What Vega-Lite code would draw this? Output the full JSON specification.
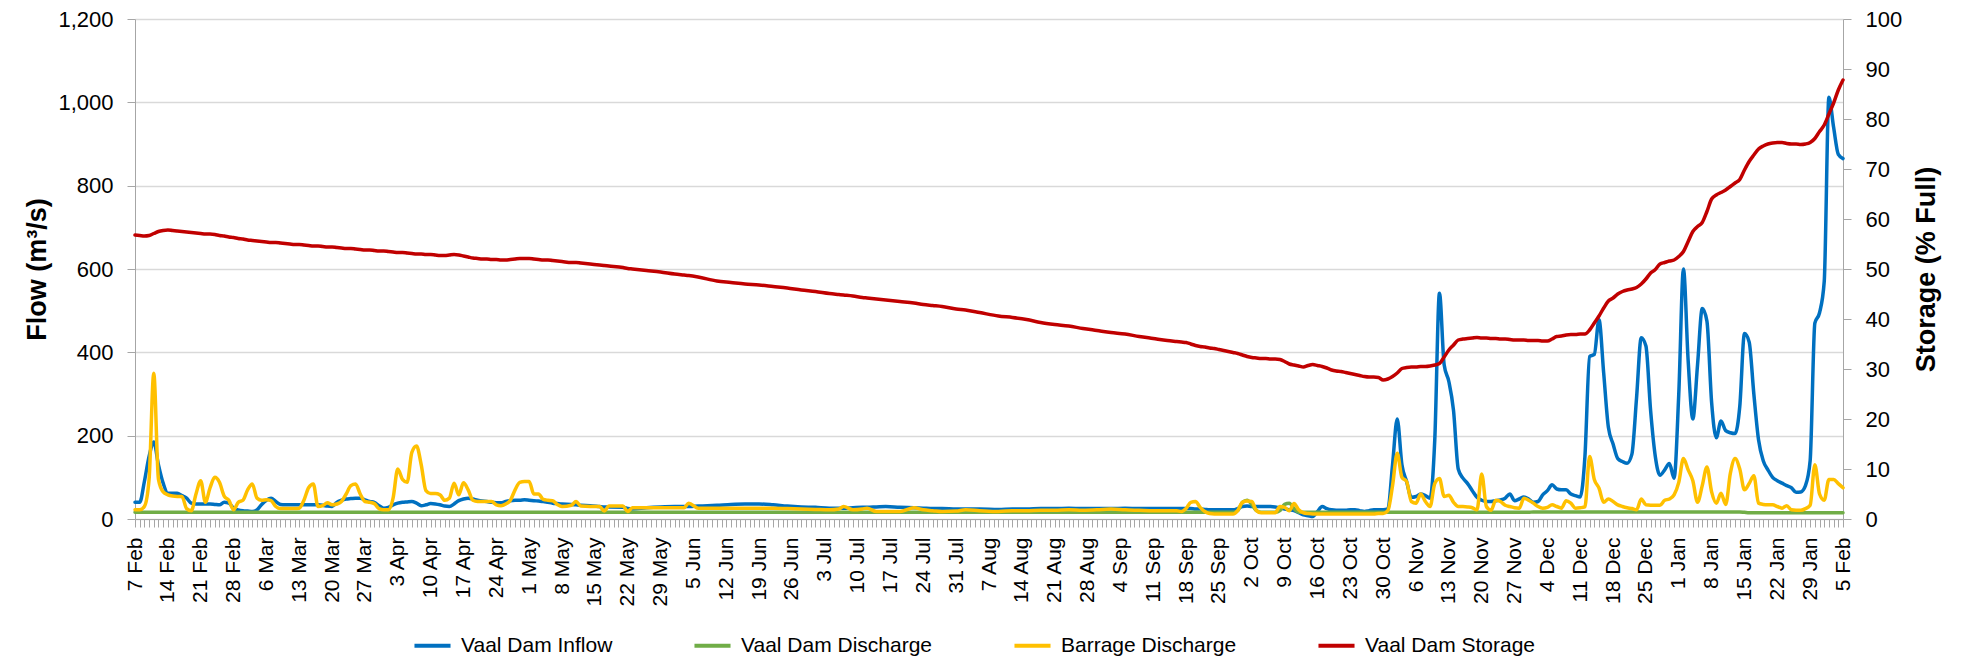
{
"$schema": "https://vega.github.io/schema/vega-lite/v6.json",
"width": 1708, "height": 500,
"autosize": {"type": "none"},
"padding": {"left": 135, "top": 19, "right": 123, "bottom": 143},
"background": "white",
"config": {"view": {"stroke": null}, "font": "Liberation Sans",
  "axis": {"labelColor": "#000000", "titleColor": "#000000", "domainColor": "#A6A6A6", "tickColor": "#A6A6A6", "tickSize": 8, "labelFont": "Liberation Sans", "titleFont": "Liberation Sans"}},
"data": {"values": [
{"d":"2016-02-07","i":40,"o":16,"b":22,"s":56.8},
{"d":"2016-02-08","i":40,"o":16,"b":22,"s":56.7},
{"d":"2016-02-09","i":90,"o":16,"b":30,"s":56.6},
{"d":"2016-02-10","i":150,"o":16,"b":95,"s":56.7},
{"d":"2016-02-11","i":185,"o":16,"b":350,"s":57.1},
{"d":"2016-02-12","i":130,"o":16,"b":95,"s":57.5},
{"d":"2016-02-13","i":86,"o":16,"b":65,"s":57.7},
{"d":"2016-02-14","i":62,"o":16,"b":58,"s":57.8},
{"d":"2016-02-15","i":62,"o":16,"b":55,"s":57.7},
{"d":"2016-02-16","i":62,"o":16,"b":54,"s":57.6},
{"d":"2016-02-17","i":56,"o":16,"b":54,"s":57.5},
{"d":"2016-02-18","i":50,"o":16,"b":25,"s":57.4},
{"d":"2016-02-19","i":38,"o":16,"b":20,"s":57.3},
{"d":"2016-02-20","i":36,"o":16,"b":60,"s":57.2},
{"d":"2016-02-21","i":36,"o":16,"b":92,"s":57.1},
{"d":"2016-02-22","i":36,"o":16,"b":40,"s":57.0},
{"d":"2016-02-23","i":36,"o":16,"b":75,"s":57.0},
{"d":"2016-02-24","i":35,"o":16,"b":100,"s":56.9},
{"d":"2016-02-25","i":34,"o":16,"b":88,"s":56.7},
{"d":"2016-02-26","i":40,"o":16,"b":55,"s":56.6},
{"d":"2016-02-27","i":38,"o":16,"b":45,"s":56.4},
{"d":"2016-02-28","i":26,"o":16,"b":22,"s":56.3},
{"d":"2016-02-29","i":22,"o":16,"b":40,"s":56.1},
{"d":"2016-03-01","i":20,"o":16,"b":45,"s":56.0},
{"d":"2016-03-02","i":19,"o":16,"b":70,"s":55.8},
{"d":"2016-03-03","i":18,"o":16,"b":84,"s":55.7},
{"d":"2016-03-04","i":22,"o":16,"b":50,"s":55.6},
{"d":"2016-03-05","i":35,"o":16,"b":45,"s":55.5},
{"d":"2016-03-06","i":45,"o":16,"b":46,"s":55.4},
{"d":"2016-03-07","i":50,"o":16,"b":44,"s":55.3},
{"d":"2016-03-08","i":42,"o":16,"b":30,"s":55.3},
{"d":"2016-03-09","i":35,"o":16,"b":25,"s":55.2},
{"d":"2016-03-10","i":34,"o":16,"b":25,"s":55.1},
{"d":"2016-03-11","i":34,"o":16,"b":25,"s":55.0},
{"d":"2016-03-12","i":34,"o":16,"b":25,"s":54.9},
{"d":"2016-03-13","i":34,"o":16,"b":26,"s":54.9},
{"d":"2016-03-14","i":34,"o":16,"b":45,"s":54.8},
{"d":"2016-03-15","i":34,"o":16,"b":75,"s":54.7},
{"d":"2016-03-16","i":34,"o":16,"b":84,"s":54.6},
{"d":"2016-03-17","i":34,"o":16,"b":30,"s":54.6},
{"d":"2016-03-18","i":33,"o":16,"b":32,"s":54.5},
{"d":"2016-03-19","i":31,"o":16,"b":39,"s":54.4},
{"d":"2016-03-20","i":30,"o":16,"b":34,"s":54.4},
{"d":"2016-03-21","i":40,"o":16,"b":36,"s":54.3},
{"d":"2016-03-22","i":45,"o":16,"b":42,"s":54.2},
{"d":"2016-03-23","i":48,"o":16,"b":60,"s":54.1},
{"d":"2016-03-24","i":49,"o":16,"b":80,"s":54.1},
{"d":"2016-03-25","i":50,"o":16,"b":84,"s":54.0},
{"d":"2016-03-26","i":50,"o":16,"b":60,"s":53.9},
{"d":"2016-03-27","i":46,"o":16,"b":42,"s":53.8},
{"d":"2016-03-28","i":42,"o":16,"b":40,"s":53.8},
{"d":"2016-03-29","i":40,"o":16,"b":37,"s":53.7},
{"d":"2016-03-30","i":32,"o":16,"b":25,"s":53.6},
{"d":"2016-03-31","i":26,"o":16,"b":22,"s":53.6},
{"d":"2016-04-01","i":28,"o":16,"b":22,"s":53.5},
{"d":"2016-04-02","i":34,"o":16,"b":50,"s":53.4},
{"d":"2016-04-03","i":38,"o":16,"b":120,"s":53.3},
{"d":"2016-04-04","i":40,"o":16,"b":95,"s":53.3},
{"d":"2016-04-05","i":41,"o":16,"b":88,"s":53.2},
{"d":"2016-04-06","i":42,"o":16,"b":160,"s":53.1},
{"d":"2016-04-07","i":38,"o":16,"b":175,"s":53.0},
{"d":"2016-04-08","i":32,"o":16,"b":130,"s":53.0},
{"d":"2016-04-09","i":34,"o":16,"b":68,"s":52.9},
{"d":"2016-04-10","i":37,"o":16,"b":61,"s":52.9},
{"d":"2016-04-11","i":36,"o":16,"b":61,"s":52.8},
{"d":"2016-04-12","i":34,"o":16,"b":58,"s":52.7},
{"d":"2016-04-13","i":31,"o":16,"b":45,"s":52.7},
{"d":"2016-04-14","i":30,"o":16,"b":50,"s":52.8},
{"d":"2016-04-15","i":36,"o":16,"b":86,"s":52.9},
{"d":"2016-04-16","i":44,"o":16,"b":58,"s":52.8},
{"d":"2016-04-17","i":48,"o":16,"b":87,"s":52.6},
{"d":"2016-04-18","i":50,"o":16,"b":70,"s":52.4},
{"d":"2016-04-19","i":48,"o":16,"b":45,"s":52.2},
{"d":"2016-04-20","i":45,"o":16,"b":42,"s":52.1},
{"d":"2016-04-21","i":43,"o":16,"b":42,"s":52.0},
{"d":"2016-04-22","i":42,"o":16,"b":42,"s":52.0},
{"d":"2016-04-23","i":40,"o":16,"b":42,"s":51.9},
{"d":"2016-04-24","i":39,"o":16,"b":34,"s":51.9},
{"d":"2016-04-25","i":39,"o":16,"b":32,"s":51.8},
{"d":"2016-04-26","i":42,"o":16,"b":36,"s":51.8},
{"d":"2016-04-27","i":44,"o":16,"b":45,"s":51.9},
{"d":"2016-04-28","i":45,"o":16,"b":70,"s":52.0},
{"d":"2016-04-29","i":45,"o":16,"b":88,"s":52.1},
{"d":"2016-04-30","i":46,"o":16,"b":90,"s":52.1},
{"d":"2016-05-01","i":45,"o":16,"b":90,"s":52.1},
{"d":"2016-05-02","i":44,"o":16,"b":60,"s":52.0},
{"d":"2016-05-03","i":43,"o":16,"b":60,"s":51.9},
{"d":"2016-05-04","i":42,"o":16,"b":47,"s":51.8},
{"d":"2016-05-05","i":40,"o":16,"b":45,"s":51.8},
{"d":"2016-05-06","i":38,"o":16,"b":44,"s":51.7},
{"d":"2016-05-07","i":37,"o":16,"b":35,"s":51.6},
{"d":"2016-05-08","i":36,"o":16,"b":30,"s":51.5},
{"d":"2016-05-10","i":35,"o":16,"b":33,"s":51.3},
{"d":"2016-05-11","i":34,"o":16,"b":42,"s":51.3},
{"d":"2016-05-12","i":33,"o":16,"b":31,"s":51.2},
{"d":"2016-05-14","i":32,"o":16,"b":30,"s":51.0},
{"d":"2016-05-16","i":30,"o":16,"b":30,"s":50.8},
{"d":"2016-05-17","i":29,"o":16,"b":19,"s":50.7},
{"d":"2016-05-18","i":29,"o":16,"b":31,"s":50.6},
{"d":"2016-05-21","i":28,"o":16,"b":31,"s":50.3},
{"d":"2016-05-22","i":25,"o":16,"b":18,"s":50.1},
{"d":"2016-05-23","i":24,"o":16,"b":27,"s":50.0},
{"d":"2016-05-26","i":27,"o":16,"b":27,"s":49.7},
{"d":"2016-05-29","i":29,"o":16,"b":27,"s":49.4},
{"d":"2016-06-01","i":30,"o":16,"b":27,"s":49.0},
{"d":"2016-06-03","i":30,"o":16,"b":27,"s":48.8},
{"d":"2016-06-04","i":30,"o":16,"b":38,"s":48.7},
{"d":"2016-06-06","i":31,"o":16,"b":26,"s":48.4},
{"d":"2016-06-10","i":33,"o":16,"b":26,"s":47.6},
{"d":"2016-06-13","i":35,"o":16,"b":26,"s":47.3},
{"d":"2016-06-16","i":36,"o":16,"b":26,"s":47.0},
{"d":"2016-06-19","i":36,"o":16,"b":26,"s":46.8},
{"d":"2016-06-22","i":34,"o":16,"b":26,"s":46.5},
{"d":"2016-06-25","i":31,"o":16,"b":25,"s":46.2},
{"d":"2016-06-28","i":29,"o":16,"b":24,"s":45.8},
{"d":"2016-07-01","i":28,"o":16,"b":23,"s":45.5},
{"d":"2016-07-04","i":26,"o":16,"b":22,"s":45.1},
{"d":"2016-07-06","i":26,"o":16,"b":24,"s":44.9},
{"d":"2016-07-07","i":26,"o":16,"b":30,"s":44.8},
{"d":"2016-07-09","i":27,"o":16,"b":22,"s":44.6},
{"d":"2016-07-11","i":28,"o":16,"b":24,"s":44.3},
{"d":"2016-07-12","i":28,"o":16,"b":26,"s":44.2},
{"d":"2016-07-14","i":29,"o":16,"b":18,"s":44.0},
{"d":"2016-07-16","i":30,"o":16,"b":18,"s":43.8},
{"d":"2016-07-19","i":28,"o":16,"b":18,"s":43.5},
{"d":"2016-07-22","i":27,"o":16,"b":27,"s":43.2},
{"d":"2016-07-24","i":26,"o":16,"b":22,"s":42.9},
{"d":"2016-07-26","i":25,"o":16,"b":20,"s":42.7},
{"d":"2016-07-28","i":25,"o":16,"b":18,"s":42.5},
{"d":"2016-07-31","i":24,"o":16,"b":19,"s":42.0},
{"d":"2016-08-02","i":24,"o":16,"b":22,"s":41.8},
{"d":"2016-08-05","i":24,"o":16,"b":20,"s":41.3},
{"d":"2016-08-09","i":23,"o":16,"b":18,"s":40.6},
{"d":"2016-08-12","i":24,"o":16,"b":20,"s":40.3},
{"d":"2016-08-15","i":24,"o":16,"b":20,"s":39.9},
{"d":"2016-08-18","i":25,"o":16,"b":21,"s":39.3},
{"d":"2016-08-21","i":25,"o":16,"b":21,"s":38.9},
{"d":"2016-08-24","i":26,"o":16,"b":22,"s":38.6},
{"d":"2016-08-27","i":25,"o":16,"b":21,"s":38.1},
{"d":"2016-08-30","i":25,"o":16,"b":22,"s":37.7},
{"d":"2016-09-02","i":25,"o":16,"b":24,"s":37.3},
{"d":"2016-09-05","i":26,"o":16,"b":22,"s":37.0},
{"d":"2016-09-08","i":25,"o":16,"b":21,"s":36.5},
{"d":"2016-09-11","i":25,"o":16,"b":20,"s":36.1},
{"d":"2016-09-14","i":25,"o":16,"b":20,"s":35.7},
{"d":"2016-09-16","i":25,"o":16,"b":20,"s":35.5},
{"d":"2016-09-17","i":25,"o":16,"b":18,"s":35.4},
{"d":"2016-09-18","i":25,"o":16,"b":25,"s":35.3},
{"d":"2016-09-19","i":25,"o":16,"b":40,"s":35.0},
{"d":"2016-09-20","i":24,"o":16,"b":42,"s":34.7},
{"d":"2016-09-21","i":24,"o":16,"b":28,"s":34.5},
{"d":"2016-09-22","i":23,"o":16,"b":18,"s":34.4},
{"d":"2016-09-23","i":22,"o":16,"b":13,"s":34.2},
{"d":"2016-09-24","i":22,"o":16,"b":12,"s":34.1},
{"d":"2016-09-25","i":22,"o":16,"b":12,"s":33.9},
{"d":"2016-09-26","i":22,"o":16,"b":12,"s":33.7},
{"d":"2016-09-27","i":22,"o":16,"b":12,"s":33.5},
{"d":"2016-09-28","i":22,"o":16,"b":12,"s":33.3},
{"d":"2016-09-29","i":25,"o":20,"b":20,"s":33.1},
{"d":"2016-09-30","i":30,"o":40,"b":40,"s":32.8},
{"d":"2016-10-01","i":31,"o":45,"b":43,"s":32.5},
{"d":"2016-10-02","i":30,"o":35,"b":42,"s":32.3},
{"d":"2016-10-03","i":30,"o":20,"b":20,"s":32.2},
{"d":"2016-10-04","i":30,"o":16,"b":15,"s":32.1},
{"d":"2016-10-05","i":30,"o":16,"b":15,"s":32.1},
{"d":"2016-10-06","i":30,"o":16,"b":15,"s":32.0},
{"d":"2016-10-07","i":29,"o":16,"b":15,"s":32.0},
{"d":"2016-10-08","i":27,"o":20,"b":30,"s":31.9},
{"d":"2016-10-09","i":24,"o":35,"b":28,"s":31.5},
{"d":"2016-10-10","i":22,"o":38,"b":20,"s":31.0},
{"d":"2016-10-11","i":20,"o":25,"b":37,"s":30.8},
{"d":"2016-10-12","i":15,"o":16,"b":22,"s":30.6},
{"d":"2016-10-13","i":10,"o":16,"b":15,"s":30.4},
{"d":"2016-10-14","i":8,"o":16,"b":13,"s":30.7},
{"d":"2016-10-15","i":6,"o":16,"b":12,"s":30.9},
{"d":"2016-10-16","i":18,"o":16,"b":12,"s":30.7},
{"d":"2016-10-17","i":30,"o":16,"b":12,"s":30.5},
{"d":"2016-10-18","i":25,"o":16,"b":12,"s":30.2},
{"d":"2016-10-19","i":22,"o":16,"b":12,"s":29.8},
{"d":"2016-10-20","i":21,"o":16,"b":12,"s":29.6},
{"d":"2016-10-21","i":21,"o":16,"b":12,"s":29.5},
{"d":"2016-10-22","i":21,"o":16,"b":12,"s":29.3},
{"d":"2016-10-23","i":22,"o":16,"b":12,"s":29.1},
{"d":"2016-10-24","i":22,"o":16,"b":12,"s":28.9},
{"d":"2016-10-25","i":20,"o":16,"b":12,"s":28.7},
{"d":"2016-10-26","i":18,"o":16,"b":12,"s":28.5},
{"d":"2016-10-27","i":20,"o":16,"b":12,"s":28.4},
{"d":"2016-10-28","i":22,"o":16,"b":12,"s":28.4},
{"d":"2016-10-29","i":22,"o":16,"b":13,"s":28.3},
{"d":"2016-10-30","i":22,"o":16,"b":13,"s":27.8},
{"d":"2016-10-31","i":24,"o":16,"b":20,"s":28.0},
{"d":"2016-11-01","i":130,"o":16,"b":80,"s":28.5},
{"d":"2016-11-02","i":240,"o":16,"b":158,"s":29.2},
{"d":"2016-11-03","i":130,"o":16,"b":100,"s":30.1},
{"d":"2016-11-04","i":90,"o":16,"b":90,"s":30.3},
{"d":"2016-11-05","i":52,"o":16,"b":42,"s":30.4},
{"d":"2016-11-06","i":54,"o":16,"b":38,"s":30.4},
{"d":"2016-11-07","i":60,"o":16,"b":60,"s":30.5},
{"d":"2016-11-08","i":56,"o":16,"b":42,"s":30.5},
{"d":"2016-11-09","i":50,"o":16,"b":30,"s":30.6},
{"d":"2016-11-10","i":190,"o":16,"b":85,"s":30.8},
{"d":"2016-11-11","i":542,"o":16,"b":97,"s":31.1},
{"d":"2016-11-12","i":370,"o":16,"b":54,"s":32.4},
{"d":"2016-11-13","i":330,"o":16,"b":57,"s":33.8},
{"d":"2016-11-14","i":260,"o":16,"b":40,"s":34.8},
{"d":"2016-11-15","i":120,"o":16,"b":30,"s":35.8},
{"d":"2016-11-16","i":98,"o":16,"b":30,"s":36.0},
{"d":"2016-11-17","i":85,"o":16,"b":29,"s":36.1},
{"d":"2016-11-18","i":68,"o":16,"b":27,"s":36.2},
{"d":"2016-11-19","i":52,"o":16,"b":22,"s":36.3},
{"d":"2016-11-20","i":45,"o":16,"b":108,"s":36.2},
{"d":"2016-11-21","i":42,"o":16,"b":30,"s":36.2},
{"d":"2016-11-22","i":42,"o":16,"b":21,"s":36.1},
{"d":"2016-11-23","i":44,"o":16,"b":45,"s":36.1},
{"d":"2016-11-24","i":46,"o":16,"b":42,"s":36.0},
{"d":"2016-11-25","i":50,"o":16,"b":33,"s":36.0},
{"d":"2016-11-26","i":60,"o":16,"b":30,"s":35.9},
{"d":"2016-11-27","i":44,"o":16,"b":27,"s":35.8},
{"d":"2016-11-28","i":48,"o":16,"b":26,"s":35.8},
{"d":"2016-11-29","i":53,"o":16,"b":50,"s":35.8},
{"d":"2016-11-30","i":48,"o":16,"b":45,"s":35.7},
{"d":"2016-12-01","i":40,"o":17,"b":38,"s":35.7},
{"d":"2016-12-02","i":42,"o":17,"b":30,"s":35.7},
{"d":"2016-12-03","i":58,"o":17,"b":26,"s":35.6},
{"d":"2016-12-04","i":68,"o":17,"b":28,"s":35.6},
{"d":"2016-12-05","i":82,"o":17,"b":34,"s":36.0},
{"d":"2016-12-06","i":72,"o":17,"b":30,"s":36.5},
{"d":"2016-12-07","i":70,"o":17,"b":26,"s":36.6},
{"d":"2016-12-08","i":70,"o":17,"b":44,"s":36.8},
{"d":"2016-12-09","i":60,"o":17,"b":38,"s":36.9},
{"d":"2016-12-10","i":56,"o":17,"b":26,"s":36.9},
{"d":"2016-12-11","i":53,"o":17,"b":27,"s":37.0},
{"d":"2016-12-12","i":150,"o":17,"b":29,"s":37.0},
{"d":"2016-12-13","i":390,"o":17,"b":150,"s":37.8},
{"d":"2016-12-14","i":395,"o":17,"b":95,"s":39.2},
{"d":"2016-12-15","i":478,"o":17,"b":74,"s":40.6},
{"d":"2016-12-16","i":350,"o":17,"b":40,"s":42.2},
{"d":"2016-12-17","i":220,"o":17,"b":48,"s":43.6},
{"d":"2016-12-18","i":180,"o":17,"b":42,"s":44.2},
{"d":"2016-12-19","i":145,"o":17,"b":34,"s":45.0},
{"d":"2016-12-20","i":138,"o":17,"b":30,"s":45.5},
{"d":"2016-12-21","i":134,"o":17,"b":27,"s":45.8},
{"d":"2016-12-22","i":155,"o":17,"b":25,"s":46.0},
{"d":"2016-12-23","i":290,"o":17,"b":22,"s":46.3},
{"d":"2016-12-24","i":435,"o":17,"b":48,"s":47.0},
{"d":"2016-12-25","i":415,"o":17,"b":34,"s":48.0},
{"d":"2016-12-26","i":260,"o":17,"b":33,"s":49.2},
{"d":"2016-12-27","i":150,"o":17,"b":33,"s":49.9},
{"d":"2016-12-28","i":105,"o":17,"b":33,"s":51.0},
{"d":"2016-12-29","i":118,"o":17,"b":45,"s":51.3},
{"d":"2016-12-30","i":133,"o":17,"b":48,"s":51.6},
{"d":"2016-12-31","i":98,"o":17,"b":58,"s":51.8},
{"d":"2017-01-01","i":300,"o":17,"b":88,"s":52.5},
{"d":"2017-01-02","i":600,"o":17,"b":145,"s":53.5},
{"d":"2017-01-03","i":380,"o":17,"b":118,"s":55.5},
{"d":"2017-01-04","i":240,"o":17,"b":92,"s":57.5},
{"d":"2017-01-05","i":370,"o":17,"b":40,"s":58.5},
{"d":"2017-01-06","i":505,"o":17,"b":80,"s":59.3},
{"d":"2017-01-07","i":475,"o":17,"b":125,"s":61.5},
{"d":"2017-01-08","i":280,"o":17,"b":65,"s":64.0},
{"d":"2017-01-09","i":195,"o":17,"b":38,"s":64.8},
{"d":"2017-01-10","i":235,"o":17,"b":62,"s":65.3},
{"d":"2017-01-11","i":212,"o":17,"b":35,"s":65.8},
{"d":"2017-01-12","i":207,"o":17,"b":110,"s":66.5},
{"d":"2017-01-13","i":205,"o":17,"b":145,"s":67.2},
{"d":"2017-01-14","i":270,"o":17,"b":120,"s":67.9},
{"d":"2017-01-15","i":445,"o":16,"b":70,"s":69.8},
{"d":"2017-01-16","i":425,"o":15,"b":85,"s":71.5},
{"d":"2017-01-17","i":300,"o":15,"b":104,"s":72.8},
{"d":"2017-01-18","i":190,"o":15,"b":38,"s":74.0},
{"d":"2017-01-19","i":140,"o":15,"b":35,"s":74.6},
{"d":"2017-01-20","i":118,"o":15,"b":34,"s":75.0},
{"d":"2017-01-21","i":100,"o":15,"b":34,"s":75.2},
{"d":"2017-01-22","i":92,"o":15,"b":30,"s":75.3},
{"d":"2017-01-23","i":86,"o":15,"b":26,"s":75.3},
{"d":"2017-01-24","i":80,"o":15,"b":32,"s":75.1},
{"d":"2017-01-25","i":75,"o":15,"b":22,"s":75.0},
{"d":"2017-01-26","i":64,"o":15,"b":21,"s":75.0},
{"d":"2017-01-27","i":65,"o":15,"b":21,"s":74.9},
{"d":"2017-01-28","i":80,"o":15,"b":25,"s":75.0},
{"d":"2017-01-29","i":140,"o":15,"b":33,"s":75.3},
{"d":"2017-01-30","i":470,"o":15,"b":130,"s":76.1},
{"d":"2017-01-31","i":495,"o":15,"b":60,"s":77.5},
{"d":"2017-02-01","i":570,"o":15,"b":45,"s":78.8},
{"d":"2017-02-02","i":1012,"o":15,"b":95,"s":81.0},
{"d":"2017-02-03","i":940,"o":15,"b":95,"s":83.2},
{"d":"2017-02-04","i":875,"o":15,"b":85,"s":85.8},
{"d":"2017-02-05","i":865,"o":15,"b":75,"s":87.8}
]},
"encoding": {
  "x": {"field": "d", "type": "temporal",
    "scale": {"type": "utc", "nice": false, "domain": [{"year": 2016, "month": 2, "date": 7, "utc": true}, {"year": 2017, "month": 2, "date": 5, "utc": true}]},
    "axis": {"title": null, "grid": false, "tickCount": {"interval": "day", "step": 1}, "labelOverlap": false, "labelFlush": false, "labelBound": false,
      "labelExpr": "utcday(datum.value) == 0 ? utcFormat(datum.value, '%-d %b') : ''",
      "labelAngle": 270, "labelFontSize": 21, "labelPadding": 10, "tickSize": 8, "domainColor": "#A6A6A6"}}
},
"layer": [
  {"transform": [{"fold": ["i", "o", "b"], "as": ["k", "v"]}],
   "mark": {"type": "line", "strokeWidth": 3.5, "interpolate": "monotone", "strokeJoin": "round", "strokeCap": "round"},
   "encoding": {
     "y": {"field": "v", "type": "quantitative", "scale": {"domain": [0, 1200], "nice": false},
       "axis": {"orient": "left", "values": [0, 200, 400, 600, 800, 1000, 1200], "format": ",.0f", "labelFontSize": 22, "labelPadding": 14, "grid": true, "gridColor": "#D9D9D9", "gridWidth": 1.3,
         "title": "Flow (m³/s)", "titleFontSize": 27, "titleFontWeight": "bold", "titlePadding": 6}},
     "color": {"field": "k", "type": "nominal",
       "scale": {"domain": ["i", "o", "b", "s"], "range": ["#0070C0", "#70AD47", "#FFC000", "#C00000"]},
       "legend": {"title": null, "orient": "none", "direction": "horizontal", "legendX": 277, "legendY": 606,
         "symbolType": "stroke", "symbolSize": 1300, "symbolStrokeWidth": 4, "labelFontSize": 21, "labelLimit": 400, "labelColor": "#000000", "labelFont": "Liberation Sans", "labelOffset": 8, "columnPadding": 73,
         "labelExpr": "datum.label == 'i' ? 'Vaal Dam Inflow' : datum.label == 'o' ? 'Vaal Dam Discharge' : datum.label == 'b' ? 'Barrage Discharge' : 'Vaal Dam Storage'"}}
   }},
  {"mark": {"type": "line", "strokeWidth": 3.5, "interpolate": "monotone", "strokeJoin": "round", "strokeCap": "round"},
   "encoding": {
     "y": {"field": "s", "type": "quantitative", "scale": {"domain": [0, 100], "nice": false},
       "axis": {"orient": "right", "values": [0, 10, 20, 30, 40, 50, 60, 70, 80, 90, 100], "labelFontSize": 22, "labelPadding": 14, "grid": false,
         "title": "Storage (% Full)", "titleFontSize": 27, "titleFontWeight": "bold", "titleAngle": 270, "titleBaseline": "top", "titlePadding": 12}},
     "color": {"datum": "s"}
   }}
],
"resolve": {"scale": {"y": "independent"}}
}
